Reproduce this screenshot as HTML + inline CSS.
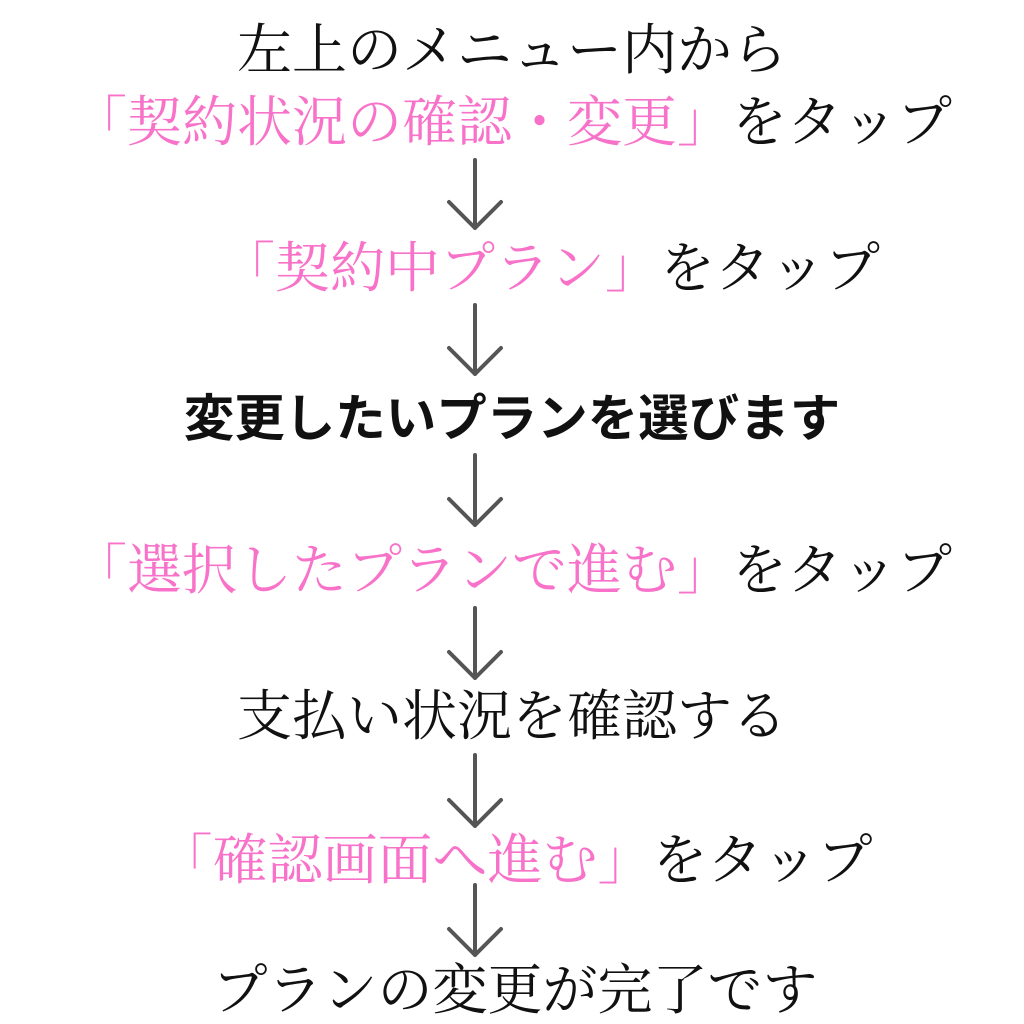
<!DOCTYPE html>
<html><head><meta charset="utf-8"><style>
html,body{margin:0;padding:0;background:#fff;}
body{width:1024px;height:1024px;position:relative;overflow:hidden;}
.t{position:absolute;left:0;width:1024px;text-align:center;white-space:nowrap;font-family:"Liberation Serif","Noto Serif CJK SC","Noto Serif CJK JP",serif;font-size:55px;line-height:60px;color:#111;}
.p{color:#f772c8;}
.b{font-family:"Liberation Sans","Noto Sans CJK JP",sans-serif;font-weight:bold;font-size:50.5px;}
svg{position:absolute;left:0;top:0;}
</style></head><body>
<div class="t" style="top:21px;left:0px;">左上のメニュー内から</div>
<div class="t" style="top:93px;"><span class="p">「契約状況の確認・変更」</span>をタップ</div>
<div class="t" style="top:239px;left:38px;"><span class="p">「契約中プラン」</span>をタップ</div>
<div class="t b" style="top:389px;left:0px;">変更したいプランを選びます</div>
<div class="t" style="top:541px;"><span class="p">「選択したプランで進む」</span>をタップ</div>
<div class="t" style="top:687px;left:0px;">支払い状況を確認する</div>
<div class="t" style="top:831px;left:3px;"><span class="p">「確認画面へ進む」</span>をタップ</div>
<div class="t" style="top:961px;left:3px;">プランの変更が完了です</div>
<svg width="1024" height="1024" fill="none" stroke="#555" stroke-width="4" stroke-linecap="round" stroke-linejoin="round">
<g><path d="M475 160V228M449 202L475 228L501 202"/></g>
<g><path d="M475 305V374M449 348L475 374L501 348"/></g>
<g><path d="M475 455V525M449 499L475 525L501 499"/></g>
<g><path d="M475 608V678M449 652L475 678L501 652"/></g>
<g><path d="M475 755V826M449 800L475 826L501 800"/></g>
<g><path d="M475 885V955M449 929L475 955L501 929"/></g>
</svg>
</body></html>
